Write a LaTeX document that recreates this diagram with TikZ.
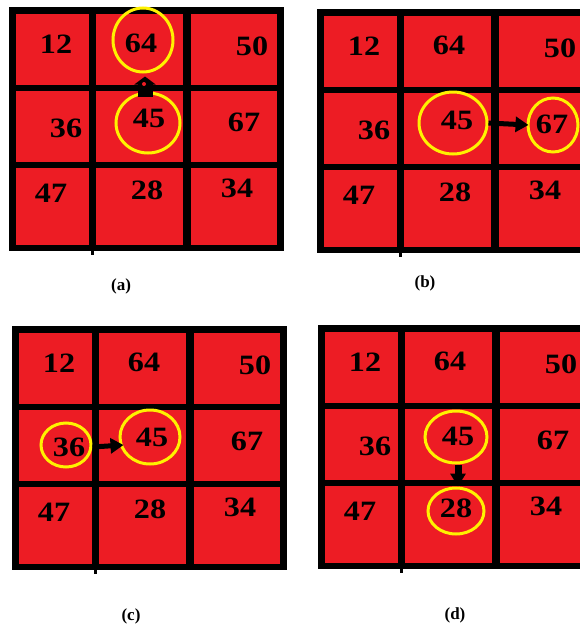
\documentclass[tikz,border=0pt]{standalone}
\usepackage{fontspec}
\setmainfont{Liberation Serif}
\usetikzlibrary{shapes.geometric,arrows.meta}
\definecolor{cellred}{RGB}{237,28,36}
\definecolor{ringyellow}{RGB}{255,242,0}
\tikzset{
  num/.style={inner sep=0pt, xscale=1.15, transform shape, font=\bfseries\fontsize{28}{28}\selectfont},
  ring/.style={ellipse, draw=ringyellow, line width=3pt, inner sep=0pt},
  movearrow/.style={black, line width=5pt, -{Triangle[length=13pt,width=15pt]}},
  sublabel/.style={inner sep=0pt, font=\bfseries\fontsize{17}{17}\selectfont}
}
\newcommand{\gridpanel}[3]{%
  \begin{scope}[shift={(#2,#3)}]
    \fill[black] (0,0) rectangle (275,244);
    \draw[black, line width=3pt] (83.5,244) -- (83.5,248);
    \foreach \xa/\xb in {7/80,87/174,182/268}{%
      \foreach \ya/\yb in {7/78,84/155,161/238}{%
        \fill[cellred] (\xa,\ya) rectangle (\xb,\yb);}}
    \node[num] (#1n12) at (47,37) {12};
    \node[num] (#1n64) at (132,36) {64};
    \node[num] (#1n50) at (243,39) {50};
    \node[num] (#1n36) at (57,121) {36};
    \node[num] (#1n45) at (140,111) {45};
    \node[num] (#1n67) at (235,115) {67};
    \node[num] (#1n47) at (42,186) {47};
    \node[num] (#1n28) at (138,183) {28};
    \node[num] (#1n34) at (228,181) {34};
  \end{scope}}
\begin{document}
\begin{tikzpicture}[x=1pt,y=-1pt]
  \useasboundingbox (0,0) rectangle (580,627);
  \clip (0,0) rectangle (580,627);
  \fill[white] (0,0) rectangle (580,627);
  % panel (a)
  \gridpanel{a}{9}{7}
  \begin{scope}[shift={(9,7)}]
    \node[ring, minimum width=60pt, minimum height=64pt] (aC64) at (134,33) {};
    \node[ring, minimum width=64pt, minimum height=60pt] (aC45) at (139,116) {};
    \draw[black, line width=15pt, -{Triangle[length=8pt,width=21pt]}]
      ([xshift=-3pt,yshift=-5pt]aC45.north) -- ([xshift=2pt,yshift=-3pt]aC64.south);
    \fill[cellred] (135,77) circle (2);
  \end{scope}
  % panel (b)
  \gridpanel{b}{317}{9}
  \begin{scope}[shift={(317,9)}]
    \node[ring, minimum width=68pt, minimum height=62pt] (bC45) at (136,114) {};
    \node[ring, minimum width=50pt, minimum height=54pt] (bC67) at (236,116) {};
    \draw[movearrow] (bC45.east) -- ([xshift=2pt]bC67.west);
  \end{scope}
  % panel (c)
  \gridpanel{c}{12}{326}
  \begin{scope}[shift={(12,326)}]
    \node[ring, minimum width=50pt, minimum height=44pt] (cC36) at (54,119) {};
    \node[ring, minimum width=60pt, minimum height=54pt] (cC45) at (138,111) {};
    \draw[movearrow] ([yshift=-2pt]cC36.east) -- ([xshift=5pt,yshift=-8pt]cC45.west);
  \end{scope}
  % panel (d)
  \gridpanel{d}{318}{325}
  \begin{scope}[shift={(318,325)}]
    \node[ring, minimum width=62pt, minimum height=52pt] (dC45) at (138,112) {};
    \node[ring, minimum width=56pt, minimum height=46pt] (dC28) at (138,186) {};
    \draw[movearrow, line width=7pt] ([xshift=2pt]dC45.south) -- ([xshift=2pt]dC28.north);
  \end{scope}
  % sub-figure labels
  \node[sublabel] (la) at (121,286) {(a)};
  \node[sublabel] (lb) at (425,283) {(b)};
  \node[sublabel] (lc) at (131,616) {(c)};
  \node[sublabel] (ld) at (455,615) {(d)};
\end{tikzpicture}
\end{document}
